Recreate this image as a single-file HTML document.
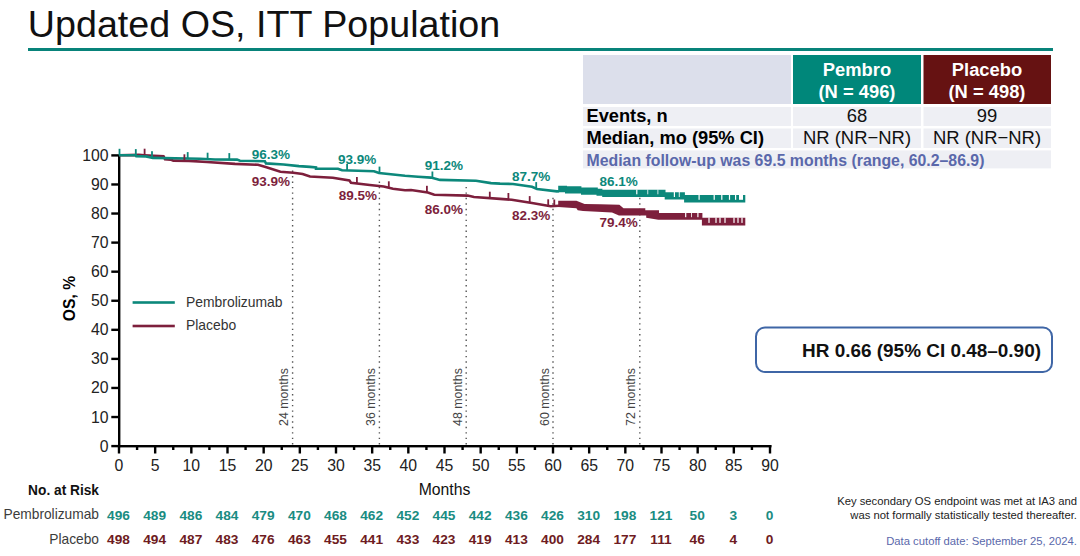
<!DOCTYPE html>
<html><head><meta charset="utf-8"><title>Updated OS, ITT Population</title>
<style>
html,body{margin:0;padding:0;background:#fff;width:1080px;height:556px;overflow:hidden}
svg{display:block;font-family:"Liberation Sans", sans-serif}
</style></head><body>
<svg width="1080" height="556" viewBox="0 0 1080 556">
<text x="27.8" y="37.3" font-size="37.66" fill="#111">Updated OS, ITT Population</text>
<rect x="28" y="48" width="1025" height="3" fill="#08837a"/>
<rect x="583" y="55" width="208" height="49" fill="#dcdfeb"/>
<rect x="793" y="55" width="128" height="49" fill="#00877a"/>
<rect x="923.5" y="55" width="127.5" height="49" fill="#661212"/>
<rect x="583" y="107" width="208" height="19" fill="#eeeff4"/>
<rect x="793" y="107" width="128" height="19" fill="#eeeff4"/>
<rect x="923.5" y="107" width="127.5" height="19" fill="#eeeff4"/>
<rect x="583" y="128.5" width="208" height="19.5" fill="#eeeff4"/>
<rect x="793" y="128.5" width="128" height="19.5" fill="#eeeff4"/>
<rect x="923.5" y="128.5" width="127.5" height="19.5" fill="#eeeff4"/>
<rect x="583" y="150.4" width="468" height="18" fill="#eeeff4"/>
<text x="857" y="75.6" font-size="18.35" font-weight="bold" fill="#fff" text-anchor="middle">Pembro</text>
<text x="857" y="97.8" font-size="18.35" font-weight="bold" fill="#fff" text-anchor="middle">(N = 496)</text>
<text x="987" y="75.6" font-size="18.35" font-weight="bold" fill="#fff" text-anchor="middle">Placebo</text>
<text x="987" y="97.8" font-size="18.35" font-weight="bold" fill="#fff" text-anchor="middle">(N = 498)</text>
<text x="586.5" y="122.4" font-size="18.25" font-weight="bold" fill="#000">Events, n</text>
<text x="586.5" y="143.8" font-size="18.25" font-weight="bold" fill="#000">Median, mo (95% CI)</text>
<text x="857" y="122.4" font-size="18.45" fill="#111" text-anchor="middle">68</text>
<text x="987" y="122.4" font-size="18.45" fill="#111" text-anchor="middle">99</text>
<text x="857" y="143.8" font-size="18.45" fill="#111" text-anchor="middle">NR (NR−NR)</text>
<text x="987" y="143.8" font-size="18.45" fill="#111" text-anchor="middle">NR (NR−NR)</text>
<text x="586.5" y="165.9" font-size="15.85" font-weight="bold" fill="#5a68ab">Median follow-up was 69.5 months (range, 60.2–86.9)</text>
<rect x="118" y="155" width="2.4" height="292.3" fill="#000"/>
<rect x="118" y="445" width="653.5" height="2.4" fill="#000"/>
<rect x="111.3" y="444.90" width="8" height="2.4" fill="#000"/>
<text x="108.5" y="451.60" font-size="15.8" fill="#222" text-anchor="end">0</text>
<rect x="111.3" y="415.83" width="8" height="2.4" fill="#000"/>
<text x="108.5" y="422.53" font-size="15.8" fill="#222" text-anchor="end">10</text>
<rect x="111.3" y="386.76" width="8" height="2.4" fill="#000"/>
<text x="108.5" y="393.46" font-size="15.8" fill="#222" text-anchor="end">20</text>
<rect x="111.3" y="357.69" width="8" height="2.4" fill="#000"/>
<text x="108.5" y="364.39" font-size="15.8" fill="#222" text-anchor="end">30</text>
<rect x="111.3" y="328.62" width="8" height="2.4" fill="#000"/>
<text x="108.5" y="335.32" font-size="15.8" fill="#222" text-anchor="end">40</text>
<rect x="111.3" y="299.55" width="8" height="2.4" fill="#000"/>
<text x="108.5" y="306.25" font-size="15.8" fill="#222" text-anchor="end">50</text>
<rect x="111.3" y="270.48" width="8" height="2.4" fill="#000"/>
<text x="108.5" y="277.18" font-size="15.8" fill="#222" text-anchor="end">60</text>
<rect x="111.3" y="241.41" width="8" height="2.4" fill="#000"/>
<text x="108.5" y="248.11" font-size="15.8" fill="#222" text-anchor="end">70</text>
<rect x="111.3" y="212.34" width="8" height="2.4" fill="#000"/>
<text x="108.5" y="219.04" font-size="15.8" fill="#222" text-anchor="end">80</text>
<rect x="111.3" y="183.27" width="8" height="2.4" fill="#000"/>
<text x="108.5" y="189.97" font-size="15.8" fill="#222" text-anchor="end">90</text>
<rect x="111.3" y="154.20" width="8" height="2.4" fill="#000"/>
<text x="108.5" y="160.90" font-size="15.8" fill="#222" text-anchor="end">100</text>
<rect x="117.80" y="445" width="2.4" height="8.5" fill="#000"/>
<text x="119.00" y="470.6" font-size="15.8" fill="#222" text-anchor="middle">0</text>
<rect x="135.88" y="445" width="2.4" height="5" fill="#000"/>
<rect x="153.97" y="445" width="2.4" height="8.5" fill="#000"/>
<text x="155.17" y="470.6" font-size="15.8" fill="#222" text-anchor="middle">5</text>
<rect x="172.05" y="445" width="2.4" height="5" fill="#000"/>
<rect x="190.13" y="445" width="2.4" height="8.5" fill="#000"/>
<text x="191.33" y="470.6" font-size="15.8" fill="#222" text-anchor="middle">10</text>
<rect x="208.22" y="445" width="2.4" height="5" fill="#000"/>
<rect x="226.30" y="445" width="2.4" height="8.5" fill="#000"/>
<text x="227.50" y="470.6" font-size="15.8" fill="#222" text-anchor="middle">15</text>
<rect x="244.38" y="445" width="2.4" height="5" fill="#000"/>
<rect x="262.47" y="445" width="2.4" height="8.5" fill="#000"/>
<text x="263.67" y="470.6" font-size="15.8" fill="#222" text-anchor="middle">20</text>
<rect x="280.55" y="445" width="2.4" height="5" fill="#000"/>
<rect x="298.63" y="445" width="2.4" height="8.5" fill="#000"/>
<text x="299.83" y="470.6" font-size="15.8" fill="#222" text-anchor="middle">25</text>
<rect x="316.72" y="445" width="2.4" height="5" fill="#000"/>
<rect x="334.80" y="445" width="2.4" height="8.5" fill="#000"/>
<text x="336.00" y="470.6" font-size="15.8" fill="#222" text-anchor="middle">30</text>
<rect x="352.88" y="445" width="2.4" height="5" fill="#000"/>
<rect x="370.97" y="445" width="2.4" height="8.5" fill="#000"/>
<text x="372.17" y="470.6" font-size="15.8" fill="#222" text-anchor="middle">35</text>
<rect x="389.05" y="445" width="2.4" height="5" fill="#000"/>
<rect x="407.13" y="445" width="2.4" height="8.5" fill="#000"/>
<text x="408.33" y="470.6" font-size="15.8" fill="#222" text-anchor="middle">40</text>
<rect x="425.22" y="445" width="2.4" height="5" fill="#000"/>
<rect x="443.30" y="445" width="2.4" height="8.5" fill="#000"/>
<text x="444.50" y="470.6" font-size="15.8" fill="#222" text-anchor="middle">45</text>
<rect x="461.38" y="445" width="2.4" height="5" fill="#000"/>
<rect x="479.47" y="445" width="2.4" height="8.5" fill="#000"/>
<text x="480.67" y="470.6" font-size="15.8" fill="#222" text-anchor="middle">50</text>
<rect x="497.55" y="445" width="2.4" height="5" fill="#000"/>
<rect x="515.63" y="445" width="2.4" height="8.5" fill="#000"/>
<text x="516.83" y="470.6" font-size="15.8" fill="#222" text-anchor="middle">55</text>
<rect x="533.72" y="445" width="2.4" height="5" fill="#000"/>
<rect x="551.80" y="445" width="2.4" height="8.5" fill="#000"/>
<text x="553.00" y="470.6" font-size="15.8" fill="#222" text-anchor="middle">60</text>
<rect x="569.88" y="445" width="2.4" height="5" fill="#000"/>
<rect x="587.97" y="445" width="2.4" height="8.5" fill="#000"/>
<text x="589.17" y="470.6" font-size="15.8" fill="#222" text-anchor="middle">65</text>
<rect x="606.05" y="445" width="2.4" height="5" fill="#000"/>
<rect x="624.13" y="445" width="2.4" height="8.5" fill="#000"/>
<text x="625.33" y="470.6" font-size="15.8" fill="#222" text-anchor="middle">70</text>
<rect x="642.22" y="445" width="2.4" height="5" fill="#000"/>
<rect x="660.30" y="445" width="2.4" height="8.5" fill="#000"/>
<text x="661.50" y="470.6" font-size="15.8" fill="#222" text-anchor="middle">75</text>
<rect x="678.38" y="445" width="2.4" height="5" fill="#000"/>
<rect x="696.47" y="445" width="2.4" height="8.5" fill="#000"/>
<text x="697.67" y="470.6" font-size="15.8" fill="#222" text-anchor="middle">80</text>
<rect x="714.55" y="445" width="2.4" height="5" fill="#000"/>
<rect x="732.63" y="445" width="2.4" height="8.5" fill="#000"/>
<text x="733.83" y="470.6" font-size="15.8" fill="#222" text-anchor="middle">85</text>
<rect x="750.72" y="445" width="2.4" height="5" fill="#000"/>
<rect x="768.80" y="445" width="2.4" height="8.5" fill="#000"/>
<text x="770.00" y="470.6" font-size="15.8" fill="#222" text-anchor="middle">90</text>
<text x="444.5" y="494.9" font-size="15.75" fill="#111" text-anchor="middle">Months</text>
<text transform="translate(75.2,298.5) rotate(-90)" x="0" y="0" font-size="15.7" font-weight="bold" fill="#000" text-anchor="middle">OS, %</text>
<rect x="132.6" y="301.2" width="42.2" height="2.6" fill="#0c887b"/>
<rect x="132.6" y="324.7" width="42.2" height="2.6" fill="#7d1f3c"/>
<text x="186" y="306.9" font-size="13.9" fill="#333">Pembrolizumab</text>
<text x="186" y="330.2" font-size="13.9" fill="#333">Placebo</text>
<line x1="292.60" y1="170.60" x2="292.60" y2="445" stroke="#555" stroke-width="1.4" stroke-dasharray="1.4 4.05"/>
<text transform="translate(288.10,426) rotate(-90)" font-size="12.4" fill="#444">24 months</text>
<line x1="379.40" y1="181.50" x2="379.40" y2="445" stroke="#555" stroke-width="1.4" stroke-dasharray="1.4 4.05"/>
<text transform="translate(374.90,426) rotate(-90)" font-size="12.4" fill="#444">36 months</text>
<line x1="466.20" y1="186.95" x2="466.20" y2="445" stroke="#555" stroke-width="1.4" stroke-dasharray="1.4 4.05"/>
<text transform="translate(461.70,426) rotate(-90)" font-size="12.4" fill="#444">48 months</text>
<line x1="553.00" y1="197.85" x2="553.00" y2="445" stroke="#555" stroke-width="1.4" stroke-dasharray="1.4 4.05"/>
<text transform="translate(548.50,426) rotate(-90)" font-size="12.4" fill="#444">60 months</text>
<line x1="639.80" y1="197.85" x2="639.80" y2="445" stroke="#555" stroke-width="1.4" stroke-dasharray="1.4 4.05"/>
<text transform="translate(635.30,426) rotate(-90)" font-size="12.4" fill="#444">72 months</text>
<polyline points="119.0,155.3 138.9,154.9 144.4,155.2 153.9,155.8 163.5,156.2 165.0,159.2 170.6,159.6 173.3,160.6 189.0,160.9 207.0,162.0 235.0,163.9 258.0,164.8 265.6,167.1 280.4,171.8 293.3,172.7 302.6,174.0 310.0,176.5 332.8,177.7 349.4,180.5 351.0,182.8 369.8,185.0 383.7,186.5 393.0,188.8 405.0,190.2 411.0,190.0 427.8,192.4 434.3,194.7 467.6,195.6 474.0,197.0 500.0,198.9 511.7,199.7 532.0,203.0 550.6,206.2 559.0,205.8" fill="none" stroke="#7d1f3c" stroke-width="2.6" stroke-linejoin="miter"/>
<polyline points="119.0,155.3 135.6,155.3 136.2,156.1 146.0,156.4 152.8,157.9 175.0,158.3 200.0,158.8 215.0,159.5 237.0,159.6 240.0,160.7 264.8,161.2 266.0,163.4 283.6,164.5 299.0,166.1 310.0,166.9 316.0,167.5 316.0,168.7 338.0,168.7 342.0,170.3 374.0,171.2 379.0,173.0 405.0,175.8 418.0,176.7 431.0,177.6 440.0,179.9 476.0,180.8 491.0,183.1 500.0,183.6 513.0,184.0 532.0,186.8 537.0,189.0 557.0,191.4 559.0,191.2" fill="none" stroke="#0c887b" stroke-width="2.6" stroke-linejoin="miter"/>
<rect x="118.6" y="148.8" width="1.8" height="6.5" fill="#0c887b"/>
<rect x="134.9" y="149.1" width="1.8" height="6.5" fill="#0c887b"/>
<rect x="151.1" y="151.2" width="1.8" height="6.5" fill="#0c887b"/>
<rect x="186.8" y="152.1" width="1.8" height="6.5" fill="#0c887b"/>
<rect x="206.7" y="152.7" width="1.8" height="6.5" fill="#0c887b"/>
<rect x="228.4" y="153.1" width="1.8" height="6.5" fill="#0c887b"/>
<rect x="346.2" y="163.9" width="1.8" height="6.5" fill="#0c887b"/>
<rect x="378.6" y="166.6" width="1.8" height="6.5" fill="#0c887b"/>
<rect x="431.5" y="171.5" width="1.8" height="6.5" fill="#0c887b"/>
<rect x="535.3" y="182.1" width="1.8" height="6.5" fill="#0c887b"/>
<rect x="143.7" y="148.7" width="1.8" height="6.5" fill="#7d1f3c"/>
<rect x="183.5" y="154.3" width="1.8" height="6.5" fill="#7d1f3c"/>
<rect x="356.0" y="177.0" width="1.8" height="6.5" fill="#7d1f3c"/>
<rect x="387.9" y="181.3" width="1.8" height="6.5" fill="#7d1f3c"/>
<rect x="426.0" y="185.8" width="1.8" height="6.5" fill="#7d1f3c"/>
<rect x="488.9" y="191.7" width="1.8" height="6.5" fill="#7d1f3c"/>
<rect x="507.5" y="193.0" width="1.8" height="6.5" fill="#7d1f3c"/>
<rect x="528.8" y="196.1" width="1.8" height="6.5" fill="#7d1f3c"/>
<rect x="547.3" y="199.3" width="1.8" height="6.5" fill="#7d1f3c"/>
<rect x="553.4" y="199.5" width="1.8" height="6.5" fill="#7d1f3c"/>
<polygon points="558.2,185.7 567.0,185.7 567.0,186.3 581.4,186.3 581.4,187.5 597.8,187.5 597.8,188.7 602.4,188.7 602.4,189.8 665.5,189.8 665.5,192.3 684.9,192.3 684.9,195.0 745.3,195.0 745.3,202.4 684.1,202.4 684.1,199.6 664.7,199.6 664.7,196.9 602.2,196.9 602.2,195.8 596.5,195.8 596.5,194.8 581.0,194.8 581.0,193.5 565.0,193.5 565.0,192.3 558.2,192.3" fill="#0c887b"/>
<rect x="636.2" y="189.5" width="1.2" height="4.8" fill="#fff"/>
<rect x="647.4" y="189.5" width="0.8" height="4.8" fill="#fff"/>
<rect x="657.5" y="189.5" width="0.8" height="4.8" fill="#fff"/>
<rect x="673.8" y="192.0" width="1.2" height="5.0" fill="#fff"/>
<rect x="678.8" y="192.0" width="0.9" height="5.0" fill="#fff"/>
<rect x="698.5" y="194.7" width="1.2" height="5.1" fill="#fff"/>
<rect x="713.6" y="194.7" width="1.2" height="5.1" fill="#fff"/>
<rect x="721.2" y="194.7" width="1.2" height="5.1" fill="#fff"/>
<rect x="728.9" y="194.7" width="1.2" height="5.1" fill="#fff"/>
<rect x="735.0" y="194.7" width="1.2" height="5.1" fill="#fff"/>
<rect x="739.0" y="194.7" width="4.0" height="5.1" fill="#fff"/>
<polygon points="558.2,200.8 576.4,200.8 584.6,203.9 600.0,204.3 619.4,204.7 623.5,208.3 645.3,208.3 645.3,210.2 659.0,210.2 659.0,212.9 702.4,212.9 702.4,217.8 745.3,217.8 745.3,225.5 701.9,225.5 701.9,219.8 658.3,219.7 646.2,217.7 646.2,215.6 619.0,215.6 612.0,212.4 583.0,211.1 577.7,210.2 576.4,208.3 558.2,207.0" fill="#7d1f3c"/>
<rect x="685.1" y="212.6" width="1.2" height="4.6" fill="#fff"/>
<rect x="691.0" y="212.6" width="0.8" height="4.6" fill="#fff"/>
<rect x="697.3" y="212.6" width="1.2" height="4.6" fill="#fff"/>
<rect x="708.4" y="217.5" width="1.2" height="5.4" fill="#fff"/>
<rect x="715.4" y="217.5" width="1.2" height="5.4" fill="#fff"/>
<rect x="719.4" y="217.5" width="1.2" height="5.4" fill="#fff"/>
<rect x="724.4" y="217.5" width="1.2" height="5.4" fill="#fff"/>
<rect x="733.4" y="217.5" width="1.2" height="5.4" fill="#fff"/>
<rect x="737.4" y="217.5" width="1.2" height="5.4" fill="#fff"/>
<rect x="741.4" y="217.5" width="1.2" height="5.4" fill="#fff"/>
<text x="251.8" y="159.1" font-size="13.5" font-weight="bold" fill="#0c887b">96.3%</text>
<text x="338.1" y="163.8" font-size="13.5" font-weight="bold" fill="#0c887b">93.9%</text>
<text x="424.8" y="170.1" font-size="13.5" font-weight="bold" fill="#0c887b">91.2%</text>
<text x="511.9" y="181.4" font-size="13.5" font-weight="bold" fill="#0c887b">87.7%</text>
<text x="599.5" y="185.6" font-size="13.5" font-weight="bold" fill="#0c887b">86.1%</text>
<text x="251.8" y="185.5" font-size="13.5" font-weight="bold" fill="#7d1f3c">93.9%</text>
<text x="338.8" y="199.9" font-size="13.5" font-weight="bold" fill="#7d1f3c">89.5%</text>
<text x="424.8" y="213.5" font-size="13.5" font-weight="bold" fill="#7d1f3c">86.0%</text>
<text x="511.9" y="220.4" font-size="13.5" font-weight="bold" fill="#7d1f3c">82.3%</text>
<text x="599.5" y="227.2" font-size="13.5" font-weight="bold" fill="#7d1f3c">79.4%</text>
<rect x="756" y="327.5" width="296" height="44.5" rx="9" ry="9" fill="#fff" stroke="#3f66a6" stroke-width="2"/>
<text x="1041" y="356.6" font-size="18.95" font-weight="bold" fill="#111" text-anchor="end">HR 0.66 (95% CI 0.48–0.90)</text>
<text x="99" y="495.2" font-size="13.73" font-weight="bold" fill="#111" text-anchor="end">No. at Risk</text>
<text x="99" y="519.3" font-size="13.75" fill="#3c3c3c" text-anchor="end">Pembrolizumab</text>
<text x="99" y="543.6" font-size="13.75" fill="#3c3c3c" text-anchor="end">Placebo</text>
<text x="118.50" y="519.5" font-size="13.7" font-weight="bold" fill="#1a8c82" text-anchor="middle">496</text>
<text x="118.50" y="543.7" font-size="13.7" font-weight="bold" fill="#6e1b22" text-anchor="middle">498</text>
<text x="154.67" y="519.5" font-size="13.7" font-weight="bold" fill="#1a8c82" text-anchor="middle">489</text>
<text x="154.67" y="543.7" font-size="13.7" font-weight="bold" fill="#6e1b22" text-anchor="middle">494</text>
<text x="190.83" y="519.5" font-size="13.7" font-weight="bold" fill="#1a8c82" text-anchor="middle">486</text>
<text x="190.83" y="543.7" font-size="13.7" font-weight="bold" fill="#6e1b22" text-anchor="middle">487</text>
<text x="227.00" y="519.5" font-size="13.7" font-weight="bold" fill="#1a8c82" text-anchor="middle">484</text>
<text x="227.00" y="543.7" font-size="13.7" font-weight="bold" fill="#6e1b22" text-anchor="middle">483</text>
<text x="263.17" y="519.5" font-size="13.7" font-weight="bold" fill="#1a8c82" text-anchor="middle">479</text>
<text x="263.17" y="543.7" font-size="13.7" font-weight="bold" fill="#6e1b22" text-anchor="middle">476</text>
<text x="299.33" y="519.5" font-size="13.7" font-weight="bold" fill="#1a8c82" text-anchor="middle">470</text>
<text x="299.33" y="543.7" font-size="13.7" font-weight="bold" fill="#6e1b22" text-anchor="middle">463</text>
<text x="335.50" y="519.5" font-size="13.7" font-weight="bold" fill="#1a8c82" text-anchor="middle">468</text>
<text x="335.50" y="543.7" font-size="13.7" font-weight="bold" fill="#6e1b22" text-anchor="middle">455</text>
<text x="371.67" y="519.5" font-size="13.7" font-weight="bold" fill="#1a8c82" text-anchor="middle">462</text>
<text x="371.67" y="543.7" font-size="13.7" font-weight="bold" fill="#6e1b22" text-anchor="middle">441</text>
<text x="407.83" y="519.5" font-size="13.7" font-weight="bold" fill="#1a8c82" text-anchor="middle">452</text>
<text x="407.83" y="543.7" font-size="13.7" font-weight="bold" fill="#6e1b22" text-anchor="middle">433</text>
<text x="444.00" y="519.5" font-size="13.7" font-weight="bold" fill="#1a8c82" text-anchor="middle">445</text>
<text x="444.00" y="543.7" font-size="13.7" font-weight="bold" fill="#6e1b22" text-anchor="middle">423</text>
<text x="480.17" y="519.5" font-size="13.7" font-weight="bold" fill="#1a8c82" text-anchor="middle">442</text>
<text x="480.17" y="543.7" font-size="13.7" font-weight="bold" fill="#6e1b22" text-anchor="middle">419</text>
<text x="516.33" y="519.5" font-size="13.7" font-weight="bold" fill="#1a8c82" text-anchor="middle">436</text>
<text x="516.33" y="543.7" font-size="13.7" font-weight="bold" fill="#6e1b22" text-anchor="middle">413</text>
<text x="552.50" y="519.5" font-size="13.7" font-weight="bold" fill="#1a8c82" text-anchor="middle">426</text>
<text x="552.50" y="543.7" font-size="13.7" font-weight="bold" fill="#6e1b22" text-anchor="middle">400</text>
<text x="588.67" y="519.5" font-size="13.7" font-weight="bold" fill="#1a8c82" text-anchor="middle">310</text>
<text x="588.67" y="543.7" font-size="13.7" font-weight="bold" fill="#6e1b22" text-anchor="middle">284</text>
<text x="624.83" y="519.5" font-size="13.7" font-weight="bold" fill="#1a8c82" text-anchor="middle">198</text>
<text x="624.83" y="543.7" font-size="13.7" font-weight="bold" fill="#6e1b22" text-anchor="middle">177</text>
<text x="661.00" y="519.5" font-size="13.7" font-weight="bold" fill="#1a8c82" text-anchor="middle">121</text>
<text x="661.00" y="543.7" font-size="13.7" font-weight="bold" fill="#6e1b22" text-anchor="middle">111</text>
<text x="697.17" y="519.5" font-size="13.7" font-weight="bold" fill="#1a8c82" text-anchor="middle">50</text>
<text x="697.17" y="543.7" font-size="13.7" font-weight="bold" fill="#6e1b22" text-anchor="middle">46</text>
<text x="733.33" y="519.5" font-size="13.7" font-weight="bold" fill="#1a8c82" text-anchor="middle">3</text>
<text x="733.33" y="543.7" font-size="13.7" font-weight="bold" fill="#6e1b22" text-anchor="middle">4</text>
<text x="769.50" y="519.5" font-size="13.7" font-weight="bold" fill="#1a8c82" text-anchor="middle">0</text>
<text x="769.50" y="543.7" font-size="13.7" font-weight="bold" fill="#6e1b22" text-anchor="middle">0</text>
<text x="1077" y="505.4" font-size="11.28" fill="#222" text-anchor="end">Key secondary OS endpoint was met at IA3 and</text>
<text x="1077" y="518.6" font-size="11.28" fill="#222" text-anchor="end">was not formally statistically tested thereafter.</text>
<text x="1077" y="545.2" font-size="11.28" fill="#5a68ab" text-anchor="end">Data cutoff date: September 25, 2024.</text>
</svg>
</body></html>
